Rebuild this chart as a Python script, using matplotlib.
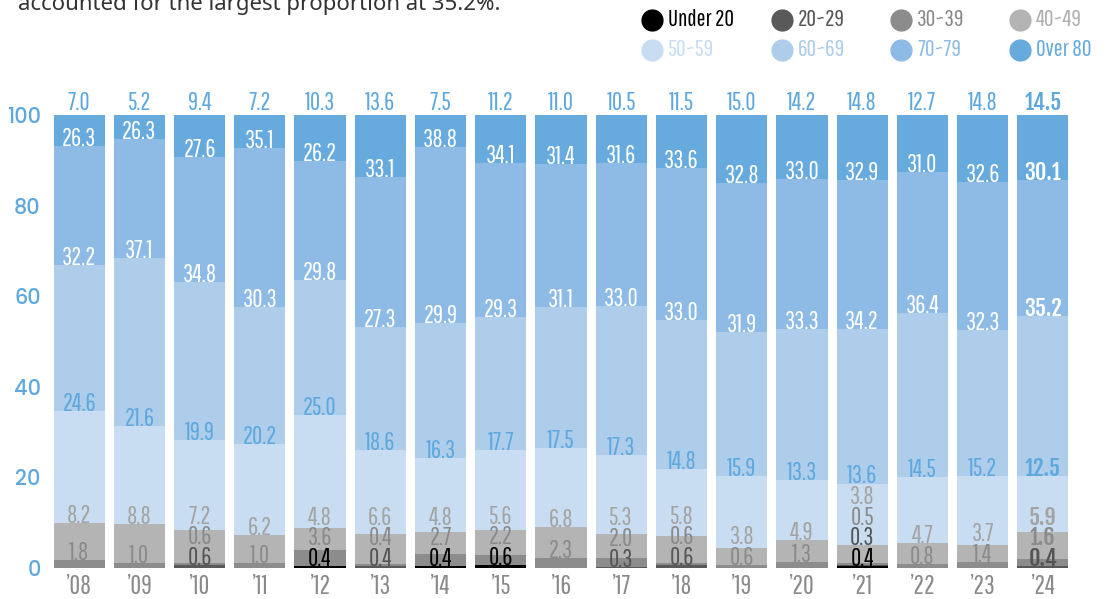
import matplotlib
matplotlib.use("Agg")
import matplotlib.pyplot as plt
from matplotlib.lines import Line2D

W, H = 1108, 599

years = ["’08", "’09", "’10", "’11", "’12", "’13", "’14", "’15", "’16",
         "’17", "’18", "’19", "’20", "’21", "’22", "’23", "’24"]
groups = ["Under 20", "20~29", "30~39", "40~49", "50~59", "60~69", "70~79", "Over 80"]

# share of each age group per year (%), bottom to top
under20 = [0, 0, 0, 0, 0.4, 0, 0.4, 0.6, 0, 0, 0, 0, 0, 0.4, 0, 0, 0]
age20 = [0, 0, 0.6, 0, 0, 0.4, 0, 0, 0, 0.3, 0.6, 0, 0, 0.3, 0, 0, 0.4]
age30 = [1.8, 1.0, 0.6, 1.0, 3.6, 0.4, 2.7, 2.2, 2.3, 2.0, 0.6, 0.6, 1.3, 0.5, 0.8, 1.4, 1.6]
age40 = [8.2, 8.8, 7.2, 6.2, 4.8, 6.6, 4.8, 5.6, 6.8, 5.3, 5.8, 3.8, 4.9, 3.8, 4.7, 3.7, 5.9]
age50 = [24.6, 21.6, 19.9, 20.2, 25.0, 18.6, 16.3, 17.7, 17.5, 17.3, 14.8, 15.9, 13.3, 13.6, 14.5, 15.2, 12.5]
age60 = [32.2, 37.1, 34.8, 30.3, 29.8, 27.3, 29.9, 29.3, 31.1, 33.0, 33.0, 31.9, 33.3, 34.2, 36.4, 32.3, 35.2]
age70 = [26.3, 26.3, 27.6, 35.1, 26.2, 33.1, 38.8, 34.1, 31.4, 31.6, 33.6, 32.8, 33.0, 32.9, 31.0, 32.6, 30.1]
over80 = [7.0, 5.2, 9.4, 7.2, 10.3, 13.6, 7.5, 11.2, 11.0, 10.5, 11.5, 15.0, 14.2, 14.8, 12.7, 14.8, 14.5]

series = [under20, age20, age30, age40, age50, age60, age70, over80]
bar_colors = ["#000000", "#595959", "#8c8c8c", "#b4b4b4", "#c9ddf2", "#aecdeb", "#8ebbe5", "#67aade"]
label_colors = ["#000000", "#555555", "#8a8a8a", "#a3a3a3", "#5ea8de", "white", "white", "#5ea8de"]
legend_text_colors = ["#000000", "#555555", "#8a8a8a", "#b0b0b0", "#c9ddf2", "#aecdeb", "#8ebbe5", "#67aade"]

COND = ["Pathway Gothic One", "Liberation Sans Narrow", "DejaVu Sans"]
BOLD = ["Fjalla One", "Barlow Condensed", "Roboto Condensed", "Liberation Sans Narrow", "DejaVu Sans"]
ROUND = ["Poppins", "Jost", "DejaVu Sans"]
BLUE = "#5ea8de"

fig = plt.figure(figsize=(W / 100, H / 100), dpi=100)
ax = fig.add_axes([49 / W, (H - 568) / H, 1024 / W, (568 - 115) / H])

x = list(range(len(years)))
bottom = [0.0] * len(years)
for vals, col in zip(series, bar_colors):
    ax.bar(x, vals, bottom=bottom, width=0.85, color=col, linewidth=0)
    bottom = [b + v for b, v in zip(bottom, vals)]

# value labels: baseline at the top of each segment, pushed up so they don't collide
GAP = 4.6
for i in range(len(years)):
    last = i == len(years) - 1
    cum = 0.0
    prev = -10.0
    for k, vals in enumerate(series):
        v = vals[i]
        if v == 0:
            continue
        cum += v
        if k == len(series) - 1:
            y = 101.0
        else:
            y = max(cum, prev + GAP)
        prev = y
        ax.text(i, y, f"{v:.1f}", ha="center", va="baseline", color=label_colors[k],
                fontsize=16 if last else 18, family=BOLD if last else COND,
                fontweight="bold" if last else "normal", clip_on=False)

ax.set_xlim(-0.5, len(years) - 0.5)
ax.set_ylim(0, 100)
ax.set_yticks([0, 20, 40, 60, 80, 100])
ax.set_yticklabels(["0", "20", "40", "60", "80", "100"], color=BLUE, fontsize=15,
                   family=ROUND, fontweight="medium")
ax.set_xticks(x)
ax.set_xticklabels(years, color="#8a8a8a", fontsize=19, family=COND)
ax.tick_params(length=0)
ax.tick_params(axis="y", pad=6)
ax.tick_params(axis="x", pad=4)
for s in ax.spines.values():
    s.set_visible(False)

# legend in two rows of four
col_x = [652, 782, 901, 1020]
row_y = [20, 50]
for k, name in enumerate(groups):
    cx = col_x[k % 4]
    cy = row_y[k // 4]
    fig.add_artist(Line2D([cx / W], [1 - cy / H], marker="o", markersize=15, color=bar_colors[k],
                          linestyle="none", transform=fig.transFigure))
    fig.text((cx + 16) / W, 1 - cy / H, name, color=legend_text_colors[k], fontsize=17,
             family=COND, va="center", ha="left")

# tail of the paragraph above the chart, cut off by the top edge
fig.text(18 / W, 1 - 10 / H, "accounted for the largest proportion at 35.2%.", color="#333333",
         fontsize=16, family=["Noto Sans", "DejaVu Sans"], va="baseline", ha="left")

fig.savefig("out.png", dpi=100, facecolor="white")
